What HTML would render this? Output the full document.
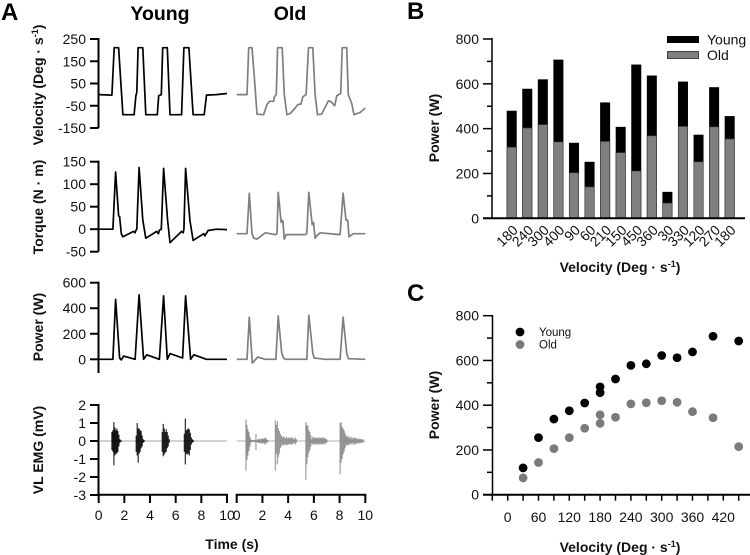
<!DOCTYPE html>
<html lang="en">
<head>
<meta charset="utf-8">
<title>Power, torque and EMG in young and old</title>
<style>
html,body{margin:0;padding:0;background:#fff;}
svg{display:block;font-family:"Liberation Sans",Arial,sans-serif;}
.tick{font-size:14px;fill:#111;}
.axt{font-size:14px;font-weight:bold;fill:#111;}
.panel{font-size:24px;font-weight:bold;fill:#000;}
.head{font-size:19.5px;font-weight:bold;fill:#000;}
</style>
</head>
<body>
<svg id="fig" xmlns="http://www.w3.org/2000/svg" width="750" height="555" viewBox="0 0 750 555">
<text class="panel" x="1" y="20">A</text>
<text class="panel" x="407" y="19">B</text>
<text class="panel" x="407" y="301">C</text>
<text class="head" x="160" y="20" text-anchor="middle">Young</text>
<text class="head" x="290" y="20" text-anchor="middle">Old</text>
<text class="axt" transform="translate(43,85) rotate(-90)" text-anchor="middle">Velocity (Deg · s<tspan font-size="9" dy="-5">-1</tspan><tspan dy="5">)</tspan></text>
<text class="axt" transform="translate(43,207) rotate(-90)" text-anchor="middle">Torque (N · m)</text>
<text class="axt" transform="translate(43,327) rotate(-90)" text-anchor="middle">Power (W)</text>
<text class="axt" transform="translate(43,450) rotate(-90)" text-anchor="middle">VL EMG (mV)</text>
<text class="axt" x="232" y="549" text-anchor="middle">Time (s)</text>
<text class="axt" transform="translate(439,128) rotate(-90)" text-anchor="middle">Power (W)</text>
<text class="axt" x="620" y="272" text-anchor="middle">Velocity (Deg · s<tspan font-size="9" dy="-5">-1</tspan><tspan dy="5">)</tspan></text>
<text class="axt" transform="translate(439,405) rotate(-90)" text-anchor="middle">Power (W)</text>
<text class="axt" x="620" y="552" text-anchor="middle">Velocity (Deg · s<tspan font-size="9" dy="-5">-1</tspan><tspan dy="5">)</tspan></text>
</svg>
<script>
// Panel A data
const velTicks = [250,150,50,-50,-150];
const torTicks = [150,100,50,0,-50];
const powTicks = [600,400,200,0];
const emgTicks = [2,1,0,-1,-2,-3];
const timeTicks = [0,2,4,6,8,10];

const velYoungT = [0,1.03,1.21,1.55,1.89,2.76,2.9,2.97,3.07,3.44,3.67,4.57,4.68,4.88,4.99,5.35,5.56,6.46,6.64,7.03,7.36,8.22,8.4,9.17,10];
const velYoungV = [0,-2,211,211,-90,-90,-5,10,211,211,-90,-90,-5,0,211,211,-90,-90,211,211,-90,-90,-2,0,5];
const velOldT = [0,0.8,0.93,1.19,1.37,1.58,2.09,2.35,2.56,2.87,2.92,3.08,3.18,3.54,3.7,3.9,4.16,4.55,4.75,5,5.14,5.4,5.58,5.92,6.1,6.28,6.6,7.13,7.3,7.62,7.78,8.09,8.2,8.55,8.68,8.94,9.12,9.6,10];
const velOldV = [0,0,211,211,80,-88,-90,-45,-30,-30,-10,0,211,211,0,-90,-85,-60,-45,-42,-10,0,211,211,0,-90,-88,-28,-30,-50,-5,5,211,211,0,-40,-90,-80,-60];

const torYoungT = [0,1.11,1.32,1.55,1.63,1.76,1.89,2.71,2.84,2.89,2.97,3.15,3.44,3.67,4.52,4.65,4.73,4.88,5.06,5.37,5.56,6.46,6.59,6.64,6.77,7.11,7.36,8.19,8.27,8.53,9.17,10];
const torYoungV = [0,0,127,30,28,-10,-17,-5,-8,-3,0,137,20,-20,-5,-10,-2,0,135,20,-30,-5,-8,0,135,20,-25,-10,-15,-3,0,-1];
const torOldT = [0,0.8,0.98,1.19,1.32,1.58,2.22,3,3.13,3.23,3.46,3.51,3.59,3.7,3.85,5.32,5.45,5.61,5.87,5.97,6.1,6.23,6.49,8.04,8.27,8.5,8.63,8.73,9.07,10];
const torOldV = [-10,-10,80,-10,-20,-22,-8,-12,-10,82,15,20,18,-22,-12,-12,-10,82,10,15,-20,-15,-8,-12,80,20,20,-17,-10,-10];

const powYoungT = [0,1.11,1.32,1.63,1.76,1.94,2.84,3.15,3.5,3.75,4.73,5.06,5.35,5.56,6.54,6.77,7.16,7.42,8.4,10];
const powYoungV = [0,0,470,10,-5,25,0,505,0,35,0,497,0,45,10,497,0,35,0,0];
const powOldT = [0,0.8,0.98,1.21,1.63,2.22,3.05,3.23,3.5,3.64,3.8,5.45,5.61,5.92,6.02,6.49,6.88,8.04,8.27,8.55,8.68,10];
const powOldV = [0,0,330,-30,18,0,0,340,50,10,0,0,345,50,10,5,0,0,330,50,5,0];

// EMG bursts: start time of each burst, then upper and lower envelope samples (mV)
const emgYoungStart = [1.03,2.92,4.95,6.67];
const emgYoungHi = [
 [0.5,0.6,1.05,0.75,0.6,0.7,0.55,0.35,0.1,0.05],
 [0.3,1.0,0.7,0.7,0.6,0.55,0.3,0.1,0.05],
 [0.5,0.95,0.7,0.5,0.65,0.5,0.3,0.1],
 [0.4,1.25,0.6,0.65,0.7,0.65,0.45,0.2,0.1,0.05]];
const emgYoungLo = [
 [-0.5,-0.6,-1.35,-0.8,-0.7,-0.7,-0.6,-0.3,-0.1,-0.05],
 [-0.6,-0.8,-1.2,-0.7,-0.6,-0.4,-0.3,-0.1,-0.05],
 [-0.6,-0.85,-0.75,-0.65,-0.6,-0.4,-0.3,-0.1],
 [-0.6,-1.3,-0.7,-0.75,-0.7,-0.8,-0.5,-0.2,-0.1,-0.05]];
const emgOldStart = [0.72,3.0,5.38,8.04];
const emgOldHi = [
 [1.2,0.9,0.65,0.5,0.25,0.1,0.05,0.05,0.05,0.05,0.4,0.05,0.1,0.12,0.08,0.15,0.1,0.15,0.1,0.2,0.15,0.08,0.05],
 [1.15,0.9,1.1,0.7,0.55,0.4,0.3,0.2,0.25,0.2,0.15,0.25,0.15,0.2,0.15,0.2,0.15,0.2,0.15,0.1,0.2,0.1],
 [1.05,0.9,0.85,0.6,0.5,0.3,0.1,0.25,0.2,0.15,0.2,0.15,0.2,0.15,0.2,0.15,0.2,0.15,0.2,0.12,0.15,0.08],
 [1.0,1.05,0.8,0.7,0.6,0.45,0.3,0.2,0.3,0.2,0.15,0.25,0.1,0.2,0.15,0.2,0.15,0.1,0.15,0.1,0.12,0.1,0.08,0.1]];
const emgOldLo = [
 [-1.65,-1.05,-0.8,-0.55,-0.3,-0.1,-0.05,-0.05,-0.05,-0.05,-0.5,-0.05,-0.1,-0.12,-0.08,-0.15,-0.1,-0.15,-0.1,-0.2,-0.15,-0.08,-0.05],
 [-1.65,-0.7,-1.3,-0.9,-0.7,-0.4,-0.3,-0.2,-0.25,-0.2,-0.2,-0.25,-0.2,-0.2,-0.15,-0.2,-0.15,-0.2,-0.15,-0.1,-0.2,-0.1],
 [-2.15,-1.3,-0.9,-0.65,-0.5,-0.3,-0.12,-0.2,-0.2,-0.15,-0.2,-0.15,-0.2,-0.15,-0.2,-0.15,-0.2,-0.15,-0.2,-0.12,-0.15,-0.08],
 [-1.85,-1.2,-1.0,-0.75,-0.6,-0.4,-0.25,-0.2,-0.25,-0.2,-0.15,-0.2,-0.1,-0.2,-0.15,-0.2,-0.15,-0.1,-0.15,-0.1,-0.12,-0.1,-0.08,-0.1]];

// Panel B data
const barCategories = ["180","240","300","400","90","60","210","150","450","360","30","330","120","270","180"];
const barYoung = [480,578,620,708,337,252,517,408,686,637,118,610,373,585,456];
const barOld = [317,403,418,341,203,140,343,293,211,368,68,410,252,408,354];
const powerTicksBC = [0,200,400,600,800];
const powerMinorBC = [100,300,500,700];

// Panel C data
const scatterVelocity = [30,60,90,120,150,180,180,210,240,270,300,330,360,400,450];
const scatterYoung = [120,255,338,375,410,482,456,517,578,585,622,612,638,708,687];
const scatterOld = [75,144,206,255,297,357,319,346,406,411,420,413,371,344,215];
const scatterTickLabels = [0,60,120,180,240,300,360,420];
const scatterTicks = [-30,0,30,60,90,120,150,180,210,240,270,300,330,360,390,420,450];

const NS = "http://www.w3.org/2000/svg";
const svg = document.getElementById("fig");
function mk(tag, attrs, parent){
  const e = document.createElementNS(NS, tag);
  for (const k in attrs) e.setAttribute(k, attrs[k]);
  (parent || svg).appendChild(e);
  return e;
}
function line(x1,y1,x2,y2,w,c,parent){
  return mk("line",{x1:x1,y1:y1,x2:x2,y2:y2,"stroke-width":w,stroke:c||"#000"},parent);
}
function linear(d0,d1,r0,r1){ return v => r0 + (v-d0)*(r1-r0)/(d1-d0); }
function label(txt,x,y,anchor,parent){
  const t = mk("text",{x:x,y:y,"text-anchor":anchor||"middle","class":"tick"},parent);
  t.textContent = txt;
  return t;
}

const xYoung = linear(0,10,98.7,227);
const xOld = linear(0,10,236.7,365.3);
const yVel = linear(250,-150,39,128);
const yTor = linear(150,-50,161.7,251.7);
const yPow = linear(600,0,282.7,359.3);
const yEmg = linear(2,-3,405,495);

function yAxis(name, ticks, yScale, yEnd){
  const g = mk("g",{});
  
  
  const top = yScale(ticks[0]);
  line(98.5,top-1,98.5,yEnd,2,"#000",g);
  ticks.forEach(t => {
    line(90,yScale(t),98.5,yScale(t),2,"#000",g);
    label(t,86,yScale(t)+5,"end",g);
  });
}
function trace(name, tArr, vArr, xs, ys, color){
  const pts = tArr.map((t,i) => xs(t).toFixed(1)+","+ys(vArr[i]).toFixed(1)).join(" ");
  const p = mk("polyline",{points:pts,fill:"none",stroke:color,"stroke-width":1.7,"stroke-linejoin":"round"});
  
  
}
const emgStep = 0.0778;
function emg(name, starts, his, los, xs, color, base){
  const g = mk("g",{});
  
  
  line(xs(0),yEmg(0),xs(10),yEmg(0),0.8,base,g);
  starts.forEach((s,b) => {
    his[b].forEach((h,i) => {
      const x = xs(s + i*emgStep);
      line(x,yEmg(h),x,yEmg(los[b][i]),1,color,g);
    });
  });
}
function timeAxis(name, xs){
  const g = mk("g",{});
  
  
  line(xs(0)-1,494.7,xs(10)+1,494.7,2,"#000",g);
  timeTicks.forEach(t => {
    line(xs(t),494.7,xs(t),503,2,"#000",g);
    label(t,xs(t),520,"middle",g);
  });
}

yAxis("velocity-y-axis",velTicks,yVel,128);
yAxis("torque-y-axis",torTicks,yTor,251.7);
yAxis("power-y-axis",powTicks,yPow,373);
yAxis("emg-y-axis",emgTicks,yEmg,495);
timeAxis("young-time-axis",xYoung);
timeAxis("old-time-axis",xOld);

const BK = "#000", GR = "#7f7f7f";
trace("velocity-young-line",velYoungT,velYoungV,xYoung,yVel,BK);
trace("velocity-old-line",velOldT,velOldV,xOld,yVel,GR);
trace("torque-young-line",torYoungT,torYoungV,xYoung,yTor,BK);
trace("torque-old-line",torOldT,torOldV,xOld,yTor,GR);
trace("power-young-line",powYoungT,powYoungV,xYoung,yPow,BK);
trace("power-old-line",powOldT,powOldV,xOld,yPow,GR);
emg("emg-young-trace",emgYoungStart,emgYoungHi,emgYoungLo,xYoung,"#000","#888");
emg("emg-old-trace",emgOldStart,emgOldHi,emgOldLo,xOld,"#8a8a8a","#999");

// Panel B
const yB = linear(0,800,218.3,39);
const xB = i => 511.7 + i*15.57;
const gB = mk("g",{});


barCategories.forEach((c,i) => {
  const x = xB(i)-5;
  const by = mk("rect",{x:x,y:yB(barYoung[i]),width:10,height:yB(0)-yB(barYoung[i]),fill:"#000"},gB);
  
  
  const bo = mk("rect",{x:x+0.3,y:yB(barOld[i]),width:9.4,height:yB(0)-yB(barOld[i]),fill:"#7f7f7f",stroke:"#333","stroke-width":0.6},gB);
  
  
  const t = mk("text",{transform:"translate("+(xB(i)+7)+",231) rotate(-45)","text-anchor":"end","class":"tick"},gB);
  t.textContent = c;
  
  
});
const axB = mk("g",{});


line(492,38,492,218.3,1.5,"#000",axB);
line(483,218.3,745,218.3,2,"#000",axB);
powerTicksBC.forEach(v => {
  line(483,yB(v),492,yB(v),1.5,"#000",axB);
  label(v,479,yB(v)+5,"end",axB);
});
powerMinorBC.forEach(v => line(487,yB(v),492,yB(v),1.5,"#000",axB));
const lgB = mk("g",{});


mk("rect",{x:667,y:36,width:32,height:7,fill:"#000"},lgB);
mk("rect",{x:667.5,y:51.5,width:31,height:7,fill:"#7f7f7f",stroke:"#222","stroke-width":0.8},lgB);
label("Young",707,44.5,"start",lgB);
label("Old",707,60,"start",lgB);

// Panel C
const yC = linear(0,800,494.7,315.7);
const xC = linear(0,420,507.7,723.3);
const axC = mk("g",{});


line(492.5,315,492.5,494.7,1.5,"#000",axC);
line(483,494.7,750,494.7,2,"#000",axC);
powerTicksBC.forEach(v => {
  line(483,yC(v),492.5,yC(v),1.5,"#000",axC);
  label(v,479,yC(v)+5,"end",axC);
});
powerMinorBC.forEach(v => line(487,yC(v),492.5,yC(v),1.5,"#000",axC));
scatterTicks.forEach(v => line(xC(v),494.7,xC(v),500.7,1.5,"#000",axC));
scatterTickLabels.forEach(v => label(v,xC(v),522,"middle",axC));
const gY = mk("g",{});


scatterVelocity.forEach((v,i) => {
  const c = mk("circle",{cx:xC(v),cy:yC(scatterYoung[i]),r:4.4,fill:"#000"},gY);
  
  
});
const gO = mk("g",{});


scatterVelocity.forEach((v,i) => {
  const c = mk("circle",{cx:xC(v),cy:yC(scatterOld[i]),r:4.4,fill:"#7a7a7a"},gO);
  
  
});
const lgC = mk("g",{});


mk("circle",{cx:520,cy:332,r:4.4,fill:"#000"},lgC);
mk("circle",{cx:520,cy:344.5,r:4.4,fill:"#7a7a7a"},lgC);
const tY = label("Young",539,336,"start",lgC);
tY.setAttribute("style","font-size:11.5px");
const tO = label("Old",539,348.5,"start",lgC);
tO.setAttribute("style","font-size:11.5px");
</script>
</body>
</html>
